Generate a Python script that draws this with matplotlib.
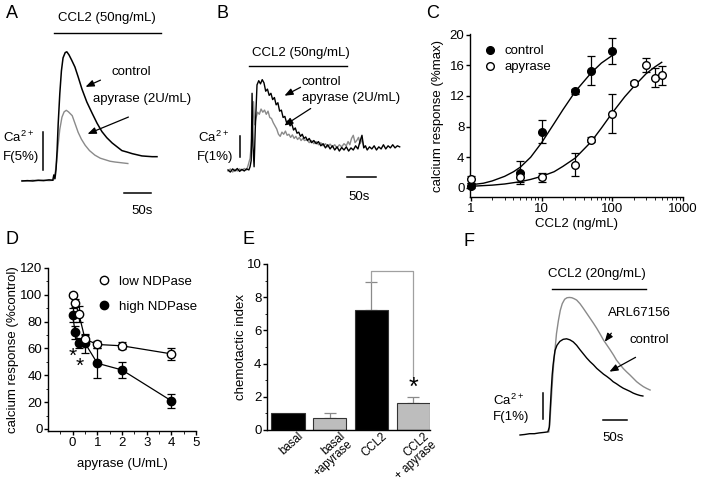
import matplotlib
matplotlib.use("Agg")
import matplotlib.pyplot as plt
from matplotlib.lines import Line2D
from matplotlib.transforms import ScaledTranslation
from matplotlib.ticker import FixedLocator, MultipleLocator, LogLocator, NullFormatter

W, H = 701, 482

# ---- A: trazas de calcio (tiempo en s, dF en %)
a_t_ctrl = [0, 10, 20, 30, 40, 50, 57, 59, 61, 63, 65, 67, 70, 73, 76, 80, 83, 87, 92, 98, 104, 111,
            120, 130, 139, 148, 157, 167, 176, 185, 195, 204, 213, 222, 231, 241, 250]
a_f_ctrl = [0.0, 0.05, 0.0, 0.1, 0.05, 0.15, 0.1, 0.8, 0.3, 1.5, 4.0, 7.5, 11.5, 14.5, 16.2, 16.9, 17.0,
            16.6, 15.9, 15.0, 13.7, 12.1, 10.4, 8.9, 7.6, 6.5, 5.7, 5.0, 4.5, 4.0, 3.8, 3.6, 3.45, 3.3,
            3.25, 3.2, 3.2]
a_t_apy = [0, 10, 20, 30, 40, 50, 58, 61, 64, 67, 70, 74, 78, 82, 86, 93, 98, 104, 110, 117, 125, 135,
           145, 154, 163, 172, 184, 196]
a_f_apy = [0.05, 0.0, 0.1, 0.05, 0.1, 0.05, 0.1, 0.8, 2.5, 4.8, 6.8, 8.4, 9.1, 9.3, 9.1, 8.6, 7.6, 6.4,
           5.5, 4.7, 4.0, 3.4, 3.0, 2.8, 2.6, 2.5, 2.4, 2.3]

# ---- B: trazas ruidosas
b_t_ctrl = [0, 4, 8, 12, 16, 20, 24, 28, 32, 36, 38, 40, 41.5, 43, 45, 47, 50, 53, 56, 59, 62, 65, 68,
            71, 74, 77, 80, 83, 86, 89, 92, 95, 98, 101, 104, 107, 110, 113, 116, 119, 122, 125, 128,
            131, 134, 137, 140, 144, 148, 152, 156, 160, 164, 168, 172, 176, 180, 184, 188, 192, 196,
            200, 204, 208, 212, 216, 220, 224, 228, 231, 234, 237, 240, 244, 248, 252, 256, 260, 264,
            268, 272, 276, 280, 284, 288, 292, 296]
b_f_ctrl = [0.05, -0.05, 0.1, 0.0, 0.12, -0.02, 0.08, 0.0, 0.1, 0.05, 0.2, 0.5, 3.7, 1.2, 0.2, 2.0,
            4.1, 4.3, 4.15, 4.35, 4.2, 3.8, 3.9, 3.6, 3.7, 3.4, 3.5, 3.15, 3.25, 2.85, 2.9, 2.55, 2.6,
            2.3, 2.4, 2.15, 2.25, 1.95, 2.05, 1.8, 1.85, 1.65, 1.75, 1.55, 1.62, 1.45, 1.55, 1.35, 1.45,
            1.3, 1.4, 1.2, 1.3, 1.1, 1.25, 1.05, 1.2, 1.0, 1.15, 0.95, 1.12, 1.0, 1.15, 0.95, 1.1, 1.0,
            1.2, 1.05, 1.45, 1.7, 1.1, 1.2, 1.0, 1.15, 1.05, 1.2, 1.0, 1.15, 1.05, 1.25, 1.05, 1.2, 1.1,
            1.25, 1.1, 1.2, 1.15]
b_t_apy = [0, 4, 8, 12, 16, 20, 24, 28, 32, 35, 38, 40, 42, 44, 46, 48, 51, 54, 57, 60, 63, 66, 69, 72,
           75, 78, 81, 84, 87, 90, 93, 96, 99, 102, 105, 108, 111, 114, 117, 120, 123, 126, 129, 132,
           136, 140, 144, 148, 152, 156, 160, 164, 168, 172, 176, 180, 184, 188, 192, 196, 200, 204,
           207, 210, 213, 216, 219, 222, 225, 228, 231, 234, 236]
b_f_apy = [0.0, 0.1, -0.05, 0.08, 0.0, 0.1, 0.02, 0.12, 0.05, 0.3, 0.6, 1.2, 2.0, 3.3, 2.2, 2.5, 2.8,
           2.7, 2.95, 2.8, 2.9, 2.7, 2.85, 2.55, 2.5, 2.3, 2.15, 2.0, 1.75, 1.65, 1.85, 1.75, 1.9, 1.7,
           1.75, 1.6, 1.72, 1.55, 1.65, 1.5, 1.6, 1.45, 1.55, 1.45, 1.5, 1.35, 1.45, 1.3, 1.4, 1.25,
           1.35, 1.2, 1.3, 1.15, 1.28, 1.15, 1.25, 1.1, 1.25, 1.15, 1.3, 1.2, 1.4, 1.25, 1.55, 1.7,
           1.35, 1.45, 1.6, 1.3, 1.5, 1.2, 1.15]

# ---- C: curva dosis-respuesta
c_x_ctrl = [1, 5, 10, 30, 50, 100]
c_y_ctrl = [0.3, 2.0, 7.3, 12.6, 15.3, 17.9]
c_e_ctrl = [0.3, 1.5, 1.5, 0.3, 1.9, 1.7]
c_x_apy = [1, 5, 10, 30, 50, 100, 200, 300, 400, 500]
c_y_apy = [1.1, 1.4, 1.4, 3.0, 6.3, 9.7, 13.7, 16.0, 14.4, 14.7]
c_e_apy = [0.5, 0.7, 0.6, 1.5, 0.3, 2.6, 0.2, 0.9, 1.2, 1.2]
c_fit_x_ctrl = [1, 1.5, 2, 3, 4, 5, 7, 10, 15, 20, 30, 50, 70, 100]
c_fit_y_ctrl = [0.4, 0.6, 0.9, 1.5, 2.1, 2.7, 4.0, 5.9, 8.4, 10.2, 12.6, 15.0, 16.3, 17.3]
c_fit_x_apy = [1, 2, 3, 5, 7, 10, 15, 20, 30, 50, 70, 100, 150, 200, 300, 400, 500]
c_fit_y_apy = [0.2, 0.35, 0.5, 0.8, 1.1, 1.5, 2.1, 2.8, 3.9, 6.0, 7.8, 9.8, 11.9, 13.2, 14.9, 15.8, 16.4]

# ---- D: apirasa
d_x = [0, 0.1, 0.25, 0.5, 1, 2, 4]
d_low = [100, 94, 86, 67, 63, 62, 56]
d_low_e = [1.5, 3, 6, 3, 2.5, 2.5, 4.5]
d_high = [85, 72, 64, 64, 49, 44, 21]
d_high_e = [5, 5, 4, 7, 11, 6, 5]

# ---- E: indice quimiotactico
e_labels = ["basal", "basal\n+apyrase", "CCL2", "CCL2\n+ apyrase"]
e_vals = [1.0, 0.75, 7.25, 1.6]
e_err = [0, 0.3, 1.65, 0.38]

# ---- F: ARL67156
f_t_ctrl = [0, 10, 20, 30, 40, 50, 58, 61, 63, 65, 67, 69, 71, 73, 77, 83, 90, 97, 104, 111, 118, 125,
            132, 139, 146, 153, 160, 167, 174, 181, 188, 194, 201, 208, 215, 222, 229, 236, 243, 250, 256]
f_f_ctrl = [0.0, 0.02, 0.05, 0.05, 0.08, 0.1, 0.12, 0.3, 1.0, 1.7, 2.3, 2.7, 3.0, 3.25, 3.45, 3.6, 3.68,
            3.7, 3.66, 3.58, 3.45, 3.28, 3.12, 2.96, 2.82, 2.70, 2.56, 2.45, 2.34, 2.25, 2.15, 2.05, 1.97,
            1.88, 1.80, 1.74, 1.68, 1.61, 1.56, 1.52, 1.50]
f_t_arl = [60, 62, 64, 66, 68, 70, 73, 76, 80, 84, 88, 93, 98, 103, 108, 113, 118, 125, 132, 139, 146,
           153, 160, 167, 174, 181, 188, 195, 201, 208, 215, 222, 229, 236, 243, 250, 257, 264, 271]
f_f_arl = [0.12, 0.4, 1.0, 1.6, 2.2, 2.7, 3.3, 3.9, 4.4, 4.8, 5.05, 5.22, 5.28, 5.29, 5.28, 5.24, 5.19,
           5.05, 4.87, 4.68, 4.49, 4.30, 4.10, 3.88, 3.65, 3.46, 3.27, 3.07, 2.88, 2.72, 2.56, 2.43,
           2.31, 2.18, 2.05, 1.95, 1.86, 1.79, 1.73]

GRIS = "#8a8a8a"
plt.rcParams["font.family"] = ["Liberation Sans", "DejaVu Sans"]
plt.rcParams["font.size"] = 9.5
plt.rcParams["mathtext.fontset"] = "custom"
plt.rcParams["mathtext.rm"] = "Liberation Sans"
plt.rcParams["axes.linewidth"] = 1.0
plt.rcParams["xtick.major.width"] = 1.0
plt.rcParams["ytick.major.width"] = 1.0
plt.rcParams["xtick.major.size"] = 3.0
plt.rcParams["ytick.major.size"] = 3.0
plt.rcParams["xtick.minor.size"] = 1.8
plt.rcParams["ytick.minor.size"] = 1.8
plt.rcParams["xtick.major.pad"] = 1.5
plt.rcParams["ytick.major.pad"] = 1.0

fig = plt.figure(figsize=(W / 100, H / 100), dpi=100)


def ejes(x0, y0, x1, y1):
    return fig.add_axes([x0 / W, 1 - y1 / H, (x1 - x0) / W, (y1 - y0) / H])


def ejes_traza(x0, y0, x1, y1, px0, py0, sx, sy):
    # ejes invisibles: px0,py0 = pixel del origen, sx,sy = pixeles por s y por %
    ax = ejes(x0, y0, x1, y1)
    ax.set_xlim((x0 - px0) / sx, (x1 - px0) / sx)
    ax.set_ylim((py0 - y1) / sy, (py0 - y0) / sy)
    ax.axis("off")
    return ax


def texto(x, y, s, **kw):
    kw.setdefault("va", "center")
    fig.text(x / W, 1 - y / H, s, **kw)


def flecha(x0, y0, x1, y1):
    fig.add_artist(matplotlib.patches.FancyArrowPatch(
        (x0 / W, 1 - y0 / H), (x1 / W, 1 - y1 / H), transform=fig.transFigure,
        arrowstyle="-|>,head_length=0.5,head_width=0.2", mutation_scale=10, lw=0.9, color="k"))


def escala(ax, t0, f0, dt, df, tbar, fbar):
    ax.plot([t0, t0], [f0, f0 + df], color="k", lw=1.1)
    ax.plot([tbar, tbar + dt], [fbar, fbar], color="k", lw=1.1)


def estilo(ax):
    ax.spines["top"].set_visible(False)
    ax.spines["right"].set_visible(False)
    ax.tick_params(direction="out", labelsize=9.5)


# ---------------- A
ax = ejes_traza(0, 0, 215, 230, 22, 181, 0.54, 7.6)
ax.plot(a_t_apy, a_f_apy, color=GRIS, lw=1.0)
ax.plot(a_t_ctrl, a_f_ctrl, color="k", lw=1.1)
ax.plot([59, 257], [19.5, 19.5], color="k", lw=1.0)
escala(ax, 38.9, 1.45, 50, 5, 189, -1.6)
texto(107, 18, "CCL2 (50ng/mL)", ha="center")
texto(111, 72, "control")
texto(93, 99, "apyrase (2U/mL)")
flecha(103, 79, 83, 88)
flecha(131, 116, 85, 135)
texto(3, 137, r"Ca$^{\mathrm{2+}}$")
texto(3, 157, "F(5%)")
texto(142, 211, "50s", ha="center")
texto(12, 13, "A", ha="center", fontsize=13)

# ---------------- B
ax = ejes_traza(215, 0, 430, 230, 228, 171, 0.58, 21)
ax.plot(b_t_apy, b_f_apy, color=GRIS, lw=1.0)
ax.plot(b_t_ctrl, b_f_ctrl, color="k", lw=1.0)
ax.plot([36.2, 205], [5.0, 5.0], color="k", lw=1.0)
escala(ax, 20.7, 0.67, 50, 1, 205, -0.29)
texto(301, 53, "CCL2 (50ng/mL)", ha="center")
texto(302, 82, "control")
texto(302, 98, "apyrase (2U/mL)")
flecha(303, 86, 282, 97)
flecha(313, 107, 282, 127)
texto(198, 137, r"Ca$^{\mathrm{2+}}$")
texto(197, 157, "F(1%)")
texto(359, 197, "50s", ha="center")
texto(223, 13, "B", ha="center", fontsize=13)

# ---------------- C
ax = ejes(470, 34, 683, 197)
estilo(ax)
ax.plot(c_fit_x_ctrl, c_fit_y_ctrl, color="k", lw=1.0)
ax.plot(c_fit_x_apy, c_fit_y_apy, color="k", lw=1.0)
ax.errorbar(c_x_ctrl, c_y_ctrl, yerr=c_e_ctrl, fmt="o", color="k", ms=5.5, capsize=3,
            elinewidth=0.9, capthick=0.9, clip_on=False, zorder=3)
ax.errorbar(c_x_apy, c_y_apy, yerr=c_e_apy, fmt="o", color="k", mfc="white", ms=5.5, capsize=3,
            elinewidth=0.9, capthick=0.9, clip_on=False, zorder=3)
ax.set_xscale("log")
ax.set_xlim(0.97, 1000)
ax.set_ylim(-1.2, 20.1)
ax.yaxis.set_major_locator(FixedLocator([0, 4, 8, 12, 16, 20]))
ax.xaxis.set_major_locator(FixedLocator([1, 10, 100, 1000]))
ax.set_xticklabels(["1", "10", "100", "1000"])
ax.xaxis.set_minor_locator(LogLocator(base=10, subs=range(2, 10)))
ax.xaxis.set_minor_formatter(NullFormatter())
ax.set_xlabel("CCL2 (ng/mL)", labelpad=2)
ax.set_ylabel("calcium response (%max)", labelpad=4)
h1 = Line2D([], [], ls="none", marker="o", color="k", ms=5.5)
h2 = Line2D([], [], ls="none", marker="o", color="k", mfc="white", ms=5.5)
ax.legend([h1, h2], ["control", "apyrase"], loc="upper left", bbox_to_anchor=(0.04, 0.965),
          frameon=False, handlelength=1.0, handletextpad=0.6, labelspacing=0.3, borderaxespad=0)
texto(433, 13, "C", ha="center", fontsize=13)

# ---------------- D
ax = ejes(48, 268, 196, 431)
estilo(ax)
ax.errorbar(d_x, d_high, yerr=d_high_e, fmt="-o", color="k", ms=6, lw=0.9, capsize=3,
            elinewidth=0.9, capthick=0.9, zorder=3)
ax.errorbar(d_x, d_low, yerr=d_low_e, fmt="-o", color="k", mfc="white", ms=6, lw=0.9, capsize=3,
            elinewidth=0.9, capthick=0.9, zorder=4)
ax.text(0.02, 54, "*", ha="center", va="center", fontsize=15)
ax.text(0.3, 47, "*", ha="center", va="center", fontsize=15)
ax.set_xlim(-1, 5)
ax.set_ylim(-1.5, 120)
ax.xaxis.set_major_locator(FixedLocator([0, 1, 2, 3, 4, 5]))
ax.xaxis.set_minor_locator(FixedLocator([-0.5, 0.5, 1.5, 2.5, 3.5, 4.5]))
ax.yaxis.set_major_locator(MultipleLocator(20))
ax.yaxis.set_minor_locator(MultipleLocator(10))
ax.set_xlabel("apyrase (U/mL)", labelpad=6)
ax.set_ylabel("calcium response (%control)", labelpad=1)
h1 = Line2D([], [], ls="none", marker="o", color="k", mfc="white", ms=6)
h2 = Line2D([], [], ls="none", marker="o", color="k", ms=6)
ax.legend([h1, h2], ["low NDPase", "high NDPase"], loc="upper left", bbox_to_anchor=(0.3, 0.985),
          frameon=False, handlelength=1.0, handletextpad=0.6, labelspacing=0.95, borderaxespad=0)
texto(12, 240, "D", ha="center", fontsize=13)

# ---------------- E
ax = ejes(267, 264, 430, 430)
estilo(ax)
pos = list(range(len(e_vals)))
colores = ["black", "#bdbdbd", "black", "#bdbdbd"]
ax.bar(pos, e_vals, width=0.8, color=colores, edgecolor="#333333", lw=0.8, zorder=2)
for i in pos:
    if e_err[i] > 0:
        ax.errorbar(pos[i], e_vals[i], yerr=[[0], [e_err[i]]], fmt="none", ecolor=GRIS,
                    elinewidth=0.9, capsize=4, capthick=0.9, zorder=1)
top = e_vals[2] + e_err[2] + 0.65
ax.plot([2, 2, 3, 3], [e_vals[2] + e_err[2], top, top, 3.2], color="#a0a0a0", lw=0.9)
ax.text(3, 2.55, "*", ha="center", va="center", fontsize=18)
ax.set_xlim(-0.5, 3.4)
ax.set_ylim(0, 10)
ax.yaxis.set_major_locator(MultipleLocator(2))
ax.yaxis.set_minor_locator(MultipleLocator(1))
ax.set_xticks(pos)
ax.set_xticklabels(e_labels, rotation=42, ha="right", va="top", rotation_mode="anchor",
                   fontsize=8.3, linespacing=0.95)
ax.tick_params(axis="x", length=0, pad=0)
desplaza = ScaledTranslation(7 / 72, 0, fig.dpi_scale_trans)
for lab in ax.get_xticklabels():
    lab.set_transform(lab.get_transform() + desplaza)
ax.set_ylabel("chemotactic index", labelpad=0)
texto(249, 240, "E", ha="center", fontsize=13)

# ---------------- F
ax = ejes_traza(470, 250, 701, 482, 520, 435, 0.48, 26)
ax.plot(f_t_arl, f_f_arl, color=GRIS, lw=1.0)
ax.plot(f_t_ctrl, f_f_ctrl, color="k", lw=1.0)
ax.plot([66.7, 262.5], [5.62, 5.62], color="k", lw=1.0)
escala(ax, 47.9, 0.62, 50, 1, 173, 0.58)
texto(597, 274, "CCL2 (20ng/mL)", ha="center")
texto(608, 313, "ARL67156")
texto(630, 340, "control")
flecha(613, 331, 603, 344)
flecha(638, 356, 607, 373)
texto(493, 400, r"Ca$^{\mathrm{2+}}$")
texto(493, 417, "F(1%)")
texto(613, 438, "50s", ha="center")
texto(469, 242, "F", ha="center", fontsize=13)

fig.savefig("out.png", dpi=100)
